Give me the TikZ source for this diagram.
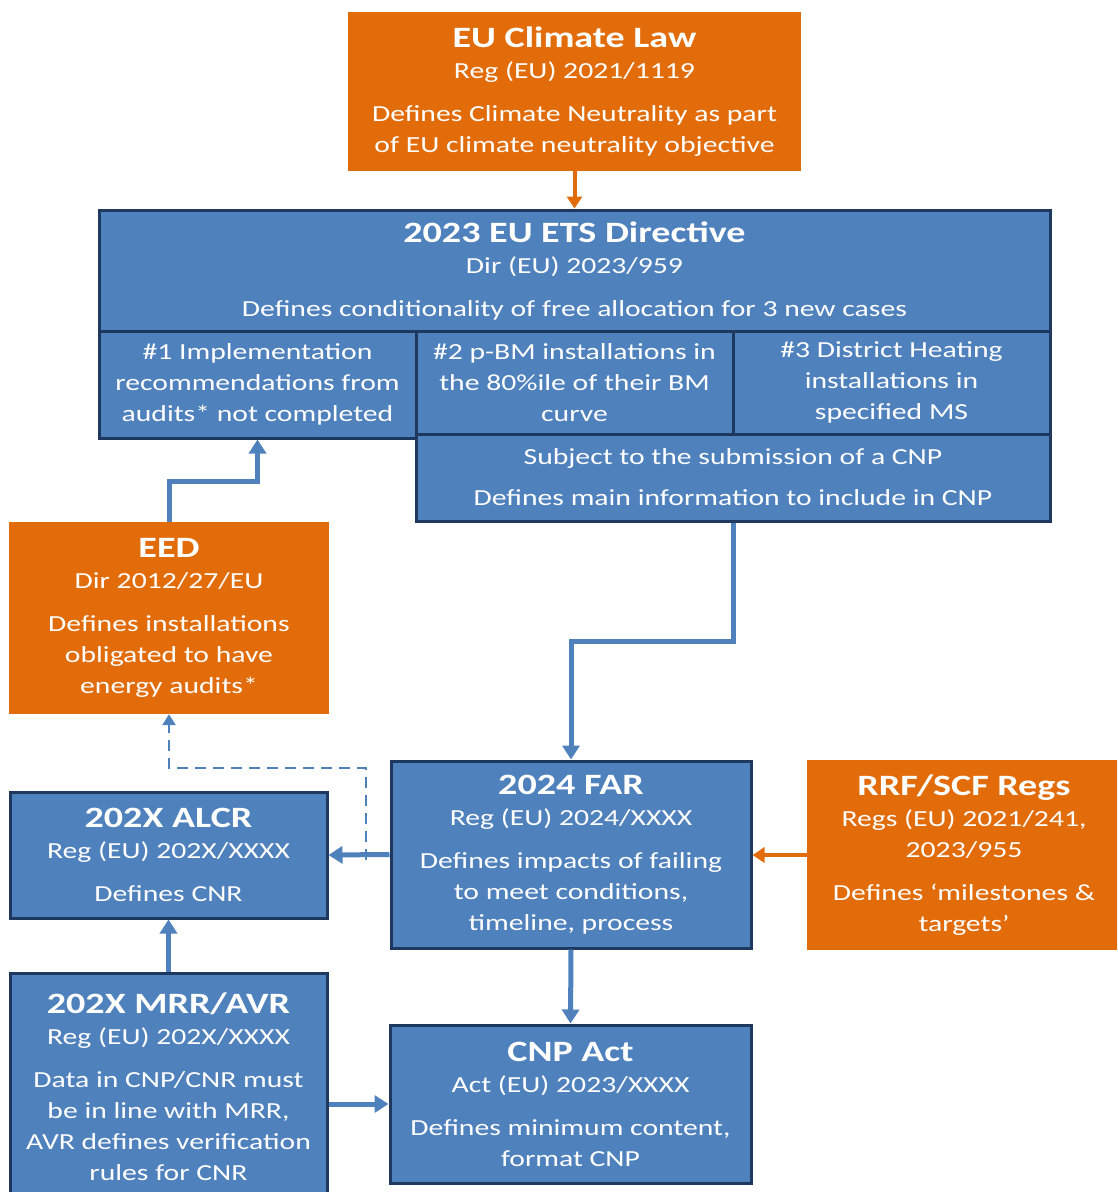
\documentclass[tikz,border=0pt]{standalone}
\usepackage{fontspec}
\setmainfont[FakeStretch=1.29]{Carlito}
\usetikzlibrary{arrows.meta,calc}
\definecolor{etsblue}{RGB}{79,129,189}
\definecolor{navy}{RGB}{31,56,96}
\definecolor{lawor}{RGB}{227,108,10}
\newcommand{\ttl}[1]{{\fontsize{29.5}{35}\selectfont\bfseries #1}}
\tikzset{
  bluebox/.style={draw=navy, line width=3pt, fill=etsblue, text=white, align=center,
    inner sep=0pt, font=\fontsize{23}{31}\selectfont},
  orbox/.style={fill=lawor, text=white, align=center, inner sep=0pt,
    font=\fontsize{23}{31}\selectfont},
  link/.style={draw=etsblue, line width=5pt, -{Triangle[width=17pt,length=14pt]}},
  orlink/.style={draw=lawor, line width=4pt, -{Triangle[width=15pt,length=12pt]}},
  optlink/.style={draw=etsblue, line width=2.5pt, dash pattern=on 11pt off 7pt,
    -{Triangle[width=13pt,length=11pt]}}
}
\begin{document}
\begin{tikzpicture}[x=1pt,y=-1pt]
  \clip (0,0) rectangle (1117,1192);
  % boxes
  \node[orbox, minimum width=453pt, minimum height=159pt] (law) at (574.5,91.5)
    {\ttl{EU Climate Law}\\ Reg (EU) 2021/1119\\[12pt]
     Defines Climate Neutrality as part\\ of EU climate neutrality objective};
  \node[bluebox, minimum width=951pt, minimum height=121pt] (ets) at (574.5,270.5)
    {\ttl{2023 EU ETS Directive}\\ Dir (EU) 2023/959\\[12pt]
     Defines conditionality of free allocation for 3 new cases};
  \node[bluebox, minimum width=317pt, minimum height=107pt] (imp) at (257.5,384.5)
    {\#1 Implementation\\ recommendations from\\ audits* not completed};
  \node[bluebox, minimum width=317pt, minimum height=103pt] (pbm) at (574.5,382.5)
    {\#2 p-BM installations in\\ the 80\%ile of their BM\\ curve};
  \node[bluebox, minimum width=317pt, minimum height=103pt] (dh) at (891.5,382.5)
    {\#3 District Heating\\ installations in\\ specified MS};
  \node[bluebox, minimum width=634pt, minimum height=87pt] (cnp) at (733,477.5)
    {Subject to the submission of a CNP\\[10pt]
     Defines main information to include in CNP};
  \node[orbox, minimum width=320pt, minimum height=192pt] (eed) at (169,618)
    {\ttl{EED}\\ Dir 2012/27/EU\\[12pt]
     Defines installations\\ obligated to have\\ energy audits*};
  \node[bluebox, minimum width=360pt, minimum height=187pt] (far) at (571,854.5)
    {\ttl{2024 FAR}\\ Reg (EU) 2024/XXXX\\[12pt]
     Defines impacts of failing\\ to meet conditions,\\ timeline, process};
  \node[orbox, minimum width=314pt, minimum height=190pt] (rrf) at (964,855)
    {\ttl{RRF/SCF Regs}\\ Regs (EU) 2021/241,\\ 2023/955\\[12pt]
     Defines ‘milestones \&\\ targets’};
  \node[bluebox, minimum width=317pt, minimum height=126pt] (alcr) at (168.5,855)
    {\ttl{202X ALCR}\\ Reg (EU) 202X/XXXX\\[12pt] Defines CNR};
  \node[bluebox, minimum width=317pt, minimum height=227pt] (mrr) at (168.5,1086.5)
    {\ttl{202X MRR/AVR}\\ Reg (EU) 202X/XXXX\\[12pt]
     Data in CNP/CNR must\\ be in line with MRR,\\ AVR defines verification\\ rules for CNR};
  \node[bluebox, minimum width=361pt, minimum height=158pt] (act) at (570.5,1104)
    {\ttl{CNP Act}\\ Act (EU) 2023/XXXX\\[12pt]
     Defines minimum content,\\ format CNP};
  % connectors
  \coordinate (split) at (366,860);
  \coordinate (bend) at (366,768);
  \draw[orlink] (law.south) -- (ets.north);
  \draw[link] (eed.north) -- ++(0,-40) -| (imp.south);
  \draw[link] (cnp.south) -- ++(0,119) -| (far.north);
  \draw[optlink] (split) -- (bend) -| (eed.south);
  \draw[link] (far.west) -- (alcr.east);
  \draw[orlink] (rrf.west) -- (far.east |- rrf.west);
  \draw[link] (mrr.north) -- (alcr.south);
  \draw[link] (far.south) -- (act.north);
  \draw[link] (mrr.east |- act.west) -- (act.west);
\end{tikzpicture}
\end{document}
